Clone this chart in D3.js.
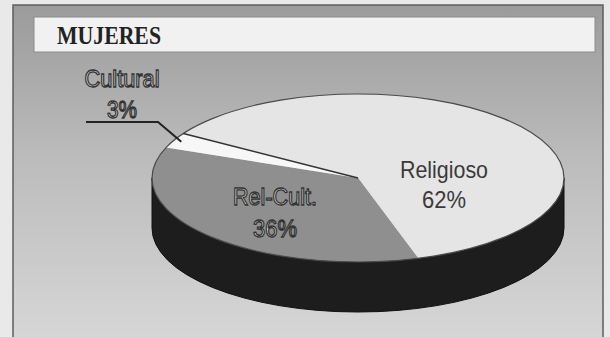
<!DOCTYPE html>
<html>
<head>
<meta charset="utf-8">
<script src="https://cdn.jsdelivr.net/npm/d3@7"></script>
<style>
  html, body { margin: 0; padding: 0; background: #e9e9e9; }
  svg { display: block; }
</style>
</head>
<body>
<svg id="chart" width="610" height="337"></svg>
<script>
// Distribución por tipo de motivación — mujeres
const title = "MUJERES";
const categories = ["Religioso", "Rel-Cult.", "Cultural"];
const values = [62, 36, 3];
const valueLabels = ["62%", "36%", "3%"];
const sliceColors = ["#e5e5e5", "#8f8f8f", "#f7f7f7"];

const W = 610, H = 337;
const svg = d3.select("#chart");

// Panel background with a vertical gray gradient
const defs = svg.append("defs");
const grad = defs.append("linearGradient")
  .attr("id", "panelGrad").attr("x1", 0).attr("y1", 0).attr("x2", 0).attr("y2", 1);
grad.append("stop").attr("offset", "0%").attr("stop-color", "#9b9b9b");
grad.append("stop").attr("offset", "45%").attr("stop-color", "#bcbcbc");
grad.append("stop").attr("offset", "100%").attr("stop-color", "#d8d8d8");

svg.append("rect").attr("x", 0).attr("y", 0).attr("width", W).attr("height", H).attr("fill", "#e9e9e9");
svg.append("rect")
  .attr("x", 13).attr("y", 5).attr("width", 590).attr("height", 345)
  .attr("fill", "url(#panelGrad)")
  .attr("stroke", "#5e5e5e").attr("stroke-width", 1.5);

// Title bar
svg.append("rect")
  .attr("x", 34).attr("y", 17).attr("width", 561).attr("height", 35)
  .attr("fill", "#f1f1f1").attr("stroke", "#8c8c8c").attr("stroke-width", 1);
svg.append("text")
  .attr("x", 57).attr("y", 44)
  .attr("font-family", "Liberation Serif, serif").attr("font-weight", "bold")
  .attr("font-size", 24.5).attr("fill", "#222")
  .attr("textLength", 104).attr("lengthAdjust", "spacingAndGlyphs")
  .text(title);

// 3D pie geometry
const cx = 358, cy = 178, rx = 206, ry = 84, depth = 50;
const pie = d3.pie().sort(null).value(d => d)
  .startAngle(302 * Math.PI / 180).endAngle((302 + 360) * Math.PI / 180);
const arcs = pie(values);
const arc = d3.arc().innerRadius(0).outerRadius(rx);

// Side wall (front half of the extrusion)
const sidePath = `M${cx + rx},${cy} A${rx},${ry} 0 0 1 ${cx - rx},${cy} L${cx - rx},${cy + depth} A${rx},${ry} 0 0 0 ${cx + rx},${cy + depth} Z`;
svg.append("path").attr("d", sidePath).attr("fill", "#1d1d1d").attr("stroke", "#111").attr("stroke-width", 1);

// Top face of each slice, flattened into an ellipse
const face = svg.append("g").attr("transform", `translate(${cx},${cy}) scale(1,${ry / rx})`);
face.selectAll("path.slice")
  .data(arcs)
  .join("path")
  .attr("class", "slice")
  .attr("d", arc)
  .attr("fill", (d, i) => sliceColors[i])
  .attr("stroke", "none");

// Outer rim of the top face
face.append("circle").attr("r", rx).attr("fill", "none")
  .attr("stroke", "#4a4a4a").attr("stroke-width", 1.2).attr("vector-effect", "non-scaling-stroke");

// Dividing line between Religioso and Cultural
const edgeAngle = arcs[0].startAngle;
face.append("line")
  .attr("x1", 0).attr("y1", 0)
  .attr("x2", rx * Math.sin(edgeAngle)).attr("y2", -rx * Math.cos(edgeAngle))
  .attr("stroke", "#333").attr("stroke-width", 1.6).attr("vector-effect", "non-scaling-stroke");

// Labels
const labelLayout = {
  "Religioso": { x: 444, y: 178, y2: 208, style: "solid", w1: 88, w2: 44 },
  "Rel-Cult.": { x: 275, y: 205, y2: 237, style: "outline", w1: 84, w2: 44 },
  "Cultural":  { x: 122, y: 87,  y2: 118, style: "outline", w1: 75, w2: 30 }
};

categories.forEach((c, i) => {
  const L = labelLayout[c];
  const g = svg.append("g");
  const lines = [[c, L.y, L.w1], [valueLabels[i], L.y2, L.w2]];
  lines.forEach(([t, y, w]) => {
    const txt = g.append("text")
      .attr("x", L.x).attr("y", y)
      .attr("text-anchor", "middle")
      .attr("font-family", "Liberation Sans, Arial, sans-serif")
      .attr("font-size", 24)
      .attr("textLength", w).attr("lengthAdjust", "spacingAndGlyphs")
      .text(t);
    if (L.style === "solid") {
      txt.attr("fill", "#3a3a3a");
    } else {
      txt.attr("fill", "#e6e6e6").attr("stroke", "#333").attr("stroke-width", 1.3);
    }
  });
});

// Leader line for the Cultural slice
const culturalMid = (arcs[2].startAngle + arcs[2].endAngle) / 2;
const ex = cx + rx * Math.sin(culturalMid) * 0.96, ey = cy - ry * Math.cos(culturalMid) * 0.96;
svg.append("path")
  .attr("d", d3.line()([[86, 122], [158, 122], [ex, ey]]))
  .attr("fill", "none").attr("stroke", "#222").attr("stroke-width", 2);
</script>
</body>
</html>
